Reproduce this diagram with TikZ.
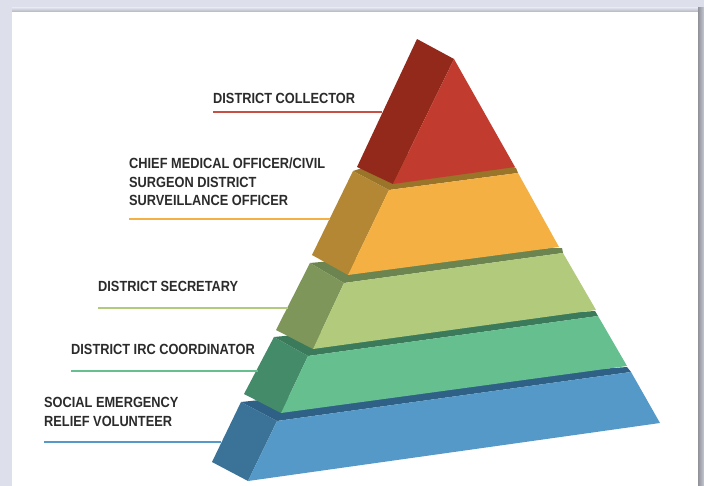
\documentclass[tikz,border=0pt]{standalone}
\usepackage{fontspec}
\usepackage{tikz}
\usepackage[dvipsnames]{xcolor}
\setmainfont{Liberation Sans}[FakeStretch=0.87]
\usetikzlibrary{positioning}

\definecolor{pagebg}{HTML}{DDDFEB}
\definecolor{textgray}{HTML}{2B2B2B}
\definecolor{redfront}{HTML}{C23B2F}
\definecolor{redside}{HTML}{92291A}
\definecolor{yelfront}{HTML}{F5B043}
\definecolor{yelside}{HTML}{B38733}
\definecolor{yeltop}{HTML}{9A7428}
\definecolor{limefront}{HTML}{B2CA7B}
\definecolor{limeside}{HTML}{7E9659}
\definecolor{limetop}{HTML}{6C8450}
\definecolor{grnfront}{HTML}{66BF8F}
\definecolor{grnside}{HTML}{448B69}
\definecolor{grntop}{HTML}{3B7A5B}
\definecolor{bluefront}{HTML}{5499C8}
\definecolor{blueside}{HTML}{3B7297}
\definecolor{bluetop}{HTML}{2F6186}

\tikzset{lvltext/.style = {anchor = base west, inner sep = 0, text = textgray,
                           font = \fontsize{14.7}{18.8}\selectfont\bfseries, align = left},
         uline/.style = {line width = 1.8pt}}

\begin{document}
\begin{tikzpicture}[x=1pt, y=-1pt]
        \useasboundingbox (0,0) rectangle (704,486);
        \fill [pagebg] (0,0) rectangle (704,486);
        \shade [top color=pagebg, bottom color=pagebg!80!black] (12,8) rectangle (698,12);
        \shade [left color=pagebg!65!black, right color=pagebg!90!black] (698,8) rectangle (704,486);
        \fill [white] (12,12) rectangle (698,486);
        % bottom layer
        \fill [bluetop] (241,402) -- (277,421) -- (631,372) -- (627,367) -- (450,380) -- cycle;
        \fill [blueside] (241,402) -- (277,421) -- (248,481) -- (212,462) -- cycle;
        \fill [bluefront] (277,421) -- (631,372) -- (660,423) -- (248,481) -- cycle;
        % fourth layer
        \fill [grntop] (274,337) -- (308,356) -- (598,316) -- (595,311) -- (450,320) -- cycle;
        \fill [grnside] (274,337) -- (308,356) -- (281,413) -- (244,394) -- cycle;
        \fill [grnfront] (308,356) -- (598,316) -- (627,366) -- (281,413) -- cycle;
        % third layer
        \fill [limetop] (310,263) -- (344,283) -- (563,253) -- (562,248) -- (450,250) -- cycle;
        \fill [limeside] (310,263) -- (344,283) -- (313,349) -- (276,330) -- cycle;
        \fill [limefront] (344,283) -- (563,253) -- (596,310) -- (313,349) -- cycle;
        % second layer
        \fill [yeltop] (353,171) -- (389,190) -- (518,173) -- (516,168) -- (450,140) -- cycle;
        \fill [yelside] (353,171) -- (389,190) -- (348,275) -- (312,255) -- cycle;
        \fill [yelfront] (389,190) -- (518,173) -- (559,247) -- (348,275) -- cycle;
        % top
        \fill [redside] (417,39) -- (454,59) -- (393,184) -- (357,167) -- cycle;
        \fill [redfront] (454,59) -- (515,167) -- (393,184) -- cycle;
        % labels
        \node[lvltext] (DistrictCollector) at (213,104) {DISTRICT COLLECTOR};
        \node[lvltext] (ChiefMedicalOfficer) at (129,206) {CHIEF MEDICAL OFFICER/CIVIL\\SURGEON DISTRICT\\SURVEILLANCE OFFICER};
        \node[lvltext] (DistrictSecretary) at (98,291) {DISTRICT SECRETARY};
        \node[lvltext] (DistrictIRCCoordinator) at (71,354) {DISTRICT IRC COORDINATOR};
        \node[lvltext] (SocialEmergency) at (44,426) {SOCIAL EMERGENCY\\RELIEF VOLUNTEER};
        \coordinate (DistrictCollectorEnd) at (382,112);
        \coordinate (ChiefMedicalOfficerEnd) at (330,219);
        \coordinate (DistrictSecretaryEnd) at (288,308);
        \coordinate (DistrictIRCCoordinatorEnd) at (258,371);
        \coordinate (SocialEmergencyEnd) at (221,442);
        \draw [uline, redfront!90!white] (DistrictCollector.base west |- DistrictCollectorEnd) -- (DistrictCollectorEnd);
        \draw [uline, yelfront] (ChiefMedicalOfficer.west |- ChiefMedicalOfficerEnd) -- (ChiefMedicalOfficerEnd);
        \draw [uline, limefront] (DistrictSecretary.base west |- DistrictSecretaryEnd) -- (DistrictSecretaryEnd);
        \draw [uline, grnfront] (DistrictIRCCoordinator.base west |- DistrictIRCCoordinatorEnd) -- (DistrictIRCCoordinatorEnd);
        \draw [uline, bluefront] (SocialEmergency.west |- SocialEmergencyEnd) -- (SocialEmergencyEnd);
    \end{tikzpicture}
\end{document}
